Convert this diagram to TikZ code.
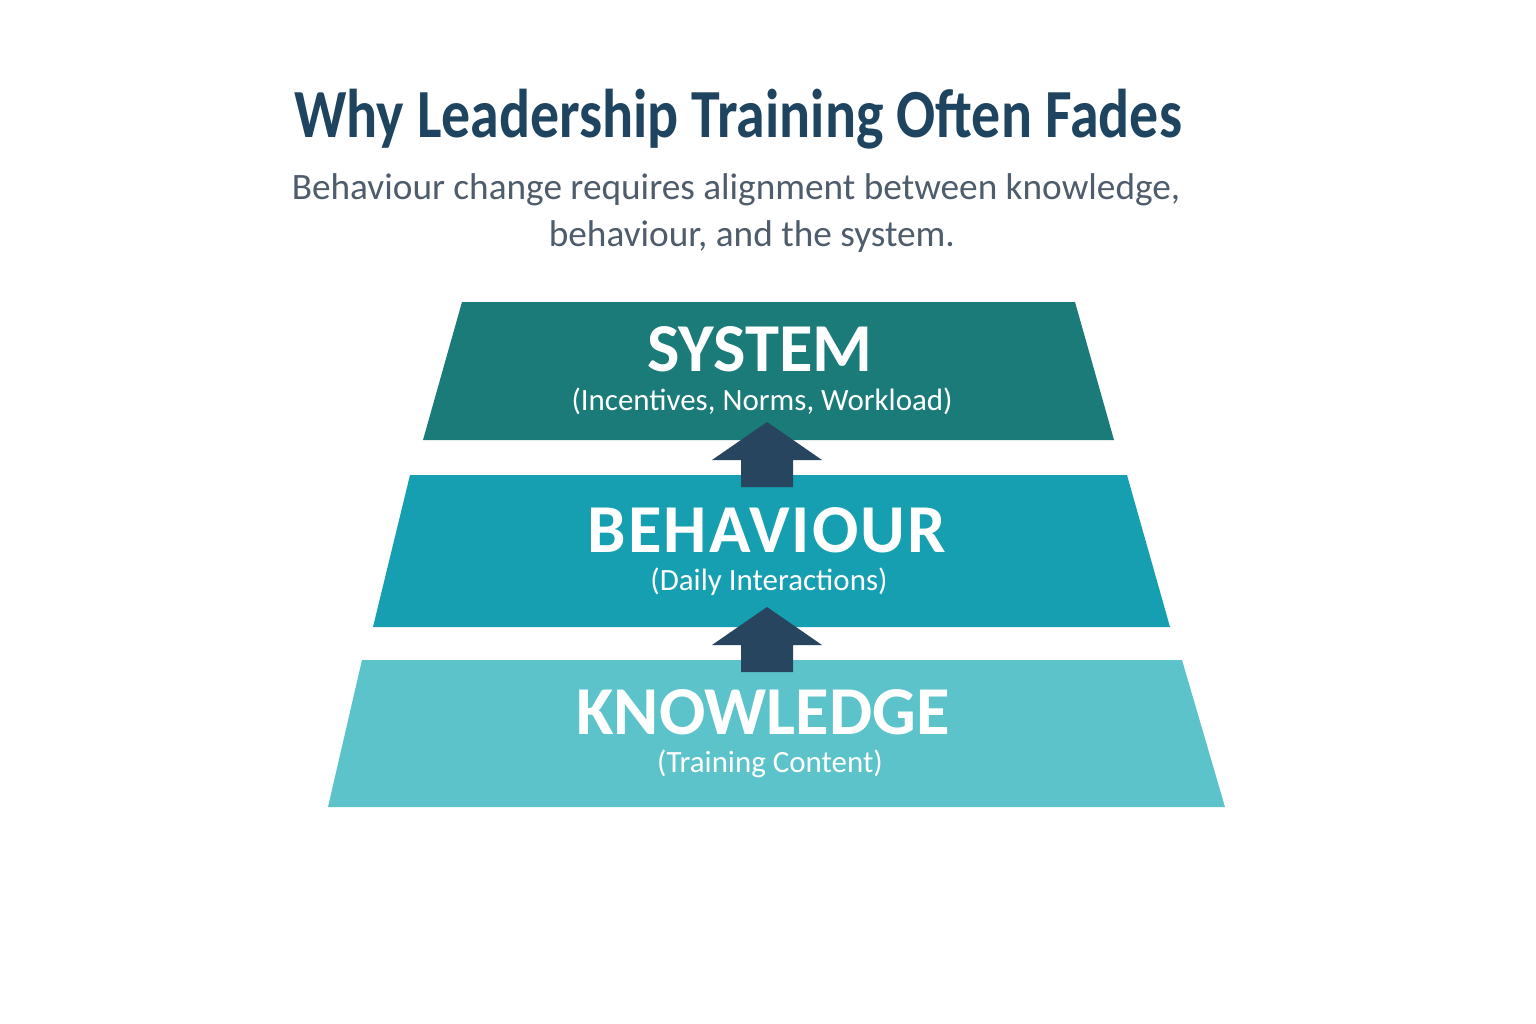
\documentclass[tikz,border=0pt]{standalone}
\usepackage{fontspec}
\setmainfont{Carlito}
\newfontfamily\headfont[FakeStretch=0.84]{Carlito}
\usetikzlibrary{positioning}

\definecolor{titlecol}{HTML}{1E4460}
\definecolor{subcol}{HTML}{4E5C6B}
\definecolor{syscol}{HTML}{1B7B79}
\definecolor{behcol}{HTML}{169FB0}
\definecolor{knowcol}{HTML}{5BC3C9}
\definecolor{arrowcol}{HTML}{27455F}

\begin{document}
\begin{tikzpicture}[
		x=0.01cm, y=-0.01cm,
		every node/.style={anchor=center, inner sep=0pt},
		heading/.style={font=\headfont\fontsize{19.6}{24}\selectfont\bfseries, text=titlecol},
		subheading/.style={font=\fontsize{10.6}{13.1}\selectfont, text=subcol, align=center},
		layername/.style={font=\fontsize{19.5}{22}\selectfont\bfseries, text=white},
		layernote/.style={font=\fontsize{8.8}{12}\selectfont, text=white},
		uparrow/.style={fill=arrowcol}
		]
		
		\fill[white] (0,0) rectangle (1536,1024);
		\useasboundingbox (0,0) rectangle (1536,1024);
		
		% title
		\node[heading, anchor=base] (title) at (738,137) {Why Leadership Training Often Fades};
		\node[subheading, anchor=base] (subtitle) at (736,246) {Behaviour change requires alignment between knowledge,\\ \hspace*{9pt}behaviour, and the system.};
		
		% layers
		\fill[syscol] (462,302) -- (1075,302) -- (1114,440) -- (423,440) -- cycle;
		\fill[behcol] (410,475) -- (1127,475) -- (1170,627) -- (373,627) -- cycle;
		\fill[knowcol] (362,660) -- (1182,660) -- (1225,807) -- (328,807) -- cycle;
		
		\node[layername] (sys) at (760,349) {SYSTEM};
		\node[layernote] (sysnote) at (762,401) {(Incentives, Norms, Workload)};
		\node[layername] (beh) at (767,530) {\addfontfeature{LetterSpace=3}BEHAVIOUR};
		\node[layernote] (behnote) at (769,582) {(Daily Interactions)};
		\node[layername] (know) at (763,712) {KNOWLEDGE};
		\node[layernote] (knownote) at (770,764) {(Training Content)};
		
		% arrows between layers
		\coordinate (tip1) at (767,422);
		\coordinate (tip2) at (767,607);
		\foreach \t in {tip1, tip2}
		\fill[uparrow] (\t) -- ++(55,38) -- ++(-29,0) -- ++(0,27) -- ++(-52,0) -- ++(0,-27) -- ++(-29,0) -- cycle;
		
\end{tikzpicture}
\end{document}
